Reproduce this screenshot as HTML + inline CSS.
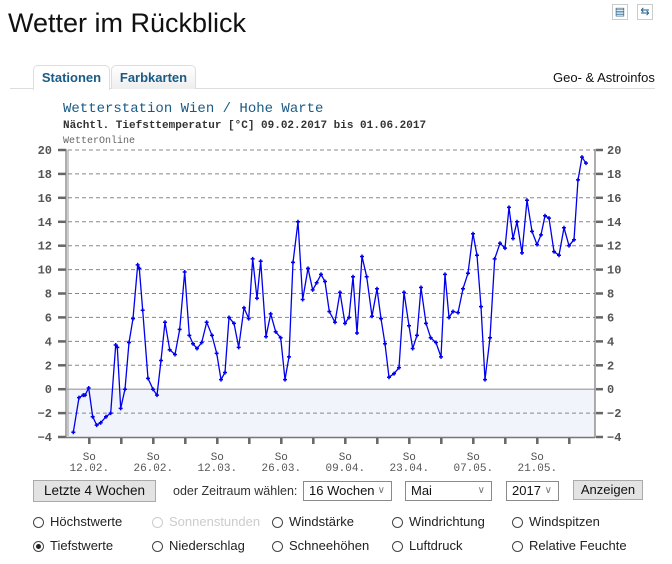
<!DOCTYPE html>
<html><head><meta charset="utf-8"><style>
body{margin:0;width:672px;height:564px;background:#fff;position:relative;overflow:hidden;font-family:"Liberation Sans",sans-serif;}
.a{position:absolute;white-space:nowrap}
.mono{font-family:"Liberation Mono","DejaVu Sans Mono",monospace}
.sel{position:absolute;height:20px;border:1px solid #8a8a8a;background:#fff;font-size:13px;line-height:18px;padding-left:5px;box-sizing:border-box;color:#111;white-space:nowrap;overflow:hidden}
.sel span{position:absolute;right:6px;top:0;color:#777;font-size:10px}
.btn{position:absolute;background:#e3e3e3;border:1px solid #aaa;box-sizing:border-box;font-size:13.5px;text-align:center;color:#111;white-space:nowrap}
.r{position:absolute;font-size:13px;color:#222;line-height:16px;white-space:nowrap}
.r i{display:inline-block;width:11px;height:11px;border:1px solid #444;border-radius:50%;vertical-align:-2px;margin-right:6px;position:relative;box-sizing:border-box}
</style></head><body>
<div class="a" style="left:8px;top:8px;font-size:27px;color:#111;">Wetter im Rückblick</div>
<div class="a" style="left:612px;top:4px;width:14px;height:14px;border:1px solid #ccc;color:#1a5b86;font-size:11px;text-align:center;line-height:14px">▤</div>
<div class="a" style="left:637px;top:4px;width:14px;height:14px;border:1px solid #ccc;color:#1a5b86;font-size:11px;text-align:center;line-height:14px">⇆</div>
<div class="a" style="left:10px;top:88px;width:645px;height:1px;background:#ddd"></div>
<div class="a" style="left:33px;top:65px;width:75px;height:24px;border:1px solid #ddd;border-bottom:none;border-radius:5px 5px 0 0;background:#fff;font-size:13px;font-weight:bold;color:#1a5b86;text-align:center;line-height:23px">Stationen</div>
<div class="a" style="left:111px;top:65px;width:83px;height:23px;border:1px solid #ddd;border-bottom:none;border-radius:5px 5px 0 0;background:linear-gradient(#fff,#eee);font-size:13px;font-weight:bold;color:#1a5b86;text-align:center;line-height:23px">Farbkarten</div>
<div class="a" style="left:553px;top:70px;font-size:13px;color:#111">Geo- &amp; Astroinfos</div>
<div class="a mono" style="left:63px;top:101px;font-size:14px;color:#1a5b86">Wetterstation Wien / Hohe Warte</div>
<div class="a mono" style="left:63px;top:120px;font-size:11px;font-weight:bold;color:#333">Nächtl. Tiefsttemperatur [°C] 09.02.2017 bis 01.06.2017</div>
<div class="a mono" style="left:63px;top:136px;font-size:10px;color:#666">WetterOnline</div>
<svg class="a" style="left:0;top:0" width="672" height="564" id="c"></svg>
<div class="btn" style="left:33px;top:480px;width:123px;height:22px;line-height:20px">Letzte 4 Wochen</div>
<div class="a" style="left:173px;top:484px;font-size:12.5px;color:#333">oder Zeitraum wählen:</div>
<div class="sel" style="left:303px;top:481px;width:89px">16 Wochen<span>∨</span></div>
<div class="sel" style="left:405px;top:481px;width:87px">Mai<span>∨</span></div>
<div class="sel" style="left:506px;top:481px;width:53px">2017<span>∨</span></div>
<div class="btn" style="left:573px;top:480px;width:70px;height:20px;line-height:18px;font-size:13px">Anzeigen</div>
<div class="r" style="left:33px;top:514px"><i></i>Höchstwerte</div>
<div class="r" style="left:152px;top:514px;color:#ccc"><i style="border-color:#ccc"></i>Sonnenstunden</div>
<div class="r" style="left:272px;top:514px"><i></i>Windstärke</div>
<div class="r" style="left:392px;top:514px"><i></i>Windrichtung</div>
<div class="r" style="left:512px;top:514px"><i></i>Windspitzen</div>
<div class="r" style="left:33px;top:538px"><i><b style="position:absolute;left:2px;top:2px;width:5px;height:5px;border-radius:50%;background:#222"></b></i>Tiefstwerte</div>
<div class="r" style="left:152px;top:538px"><i></i>Niederschlag</div>
<div class="r" style="left:272px;top:538px"><i></i>Schneehöhen</div>
<div class="r" style="left:392px;top:538px"><i></i>Luftdruck</div>
<div class="r" style="left:512px;top:538px"><i></i>Relative Feuchte</div>
<script>
var L=[[130,-3.6],[147,-0.7],[160,-0.5],[165,-0.5],[176,0.1],[188,-2.3],[200,-3.0],[212,-2.8],[228,-2.3],[242,-2.0],[257,3.7],[262,3.5],[272,-1.6],[285,0.0],[297,3.9],[309,5.9],[323,10.4],[328,10.1],[338,6.6],[354,0.9],[369,0],[381,-0.5],[393,2.4],[405,5.6],[419,3.3],[435,2.9],[449,5.0],[464,9.8],[478,4.5],[489,3.8],[501,3.4],[515,3.9],[530,5.6],[546,4.5],[560,3.0],[573,0.8],[585,1.4],[597,6.0],[612,5.5],[626,3.5],[642,6.8],[656,5.9],[668,10.9],[681,7.6],[692,10.7],[708,4.4],[722,6.3],[737,4.8],[752,4.3],[765,0.8],[777,2.7],[789,10.6],[804,14.0],[818,7.5],[834,10.1],[848,8.3],[860,8.9],[873,9.6],[885,9.0],[898,6.5]];
var R=[[15,5.6],[30,8.1],[45,5.5],[57,6.0],[69,9.4],[81,4.7],[96,11.1],[110,9.4],[126,6.1],[141,8.4],[153,5.9],[165,3.8],[177,1.0],[192,1.3],[207,1.8],[222,8.1],[237,5.3],[248,3.4],[261,4.5],[273,8.5],[288,5.5],[302,4.3],[318,3.9],[333,2.7],[345,9.6],[357,6.0],[369,6.5],[384,6.4],[399,8.4],[414,9.7],[429,13.0],[441,11.2],[453,6.9],[465,0.8],[480,4.3],[494,10.9],[510,12.2],[525,11.8],[537,15.2],[549,12.6],[561,14.0],[576,11.4],[591,15.8],[606,13.2],[621,12.1],[633,12.9],[645,14.5],[657,14.3],[672,11.5],[687,11.2],[702,13.5],[717,12.0],[732,12.5],[744,17.5],[756,19.4],[768,18.9]];
function Y(v){return 150+(20-v)*11.96}
var P=[];L.forEach(function(p){P.push([30+p[0]/3,Y(p[1])])});R.forEach(function(p){P.push([330+p[0]/3,Y(p[1])])});
var s='';
s+='<rect x="67" y="'+Y(0)+'" width="528" height="'+(Y(-4)-Y(0))+'" fill="#f1f4fa"/>';
for(var v=-4;v<=20;v+=2){var y=Y(v).toFixed(1);
 if(v>-4&&v!=0)s+='<line x1="68" x2="595" y1="'+y+'" y2="'+y+'" stroke="#888" stroke-dasharray="4,3"/>';
 s+='<line x1="58" x2="66" y1="'+y+'" y2="'+y+'" stroke="#666" stroke-width="2.5"/><line x1="596" x2="603" y1="'+y+'" y2="'+y+'" stroke="#666" stroke-width="2.5"/>';
 s+='<text x="52" y="'+(+y+4)+'" text-anchor="end" font-family="Liberation Mono,monospace" font-weight="bold" font-size="12" fill="#555">'+(v<0?'−'+(-v):v)+'</text>';
 s+='<text x="607" y="'+(+y+4)+'" font-family="Liberation Mono,monospace" font-weight="bold" font-size="12" fill="#555">'+(v<0?'−'+(-v):v)+'</text>';}
s+='<line x1="67" x2="595" y1="'+Y(0)+'" y2="'+Y(0)+'" stroke="#999" stroke-width="1.2"/>';
s+='<line x1="66" y1="149" x2="66" y2="438" stroke="#777" stroke-width="1.2"/><line x1="68" y1="150" x2="68" y2="436" stroke="#999"/>';
s+='<line x1="595" y1="149" x2="595" y2="438" stroke="#777" stroke-width="1.2"/><line x1="66" y1="437.5" x2="595" y2="437.5" stroke="#777" stroke-width="1.5"/>';
var lab=['12.02.','26.02.','12.03.','26.03.','09.04.','23.04.','07.05.','21.05.'];
for(var i=0;i<16;i++){var x=89.3+i*32;s+='<line x1="'+x+'" x2="'+x+'" y1="438" y2="444" stroke="#666" stroke-width="2.5"/>';
 if(i%2==0){s+='<text x="'+x+'" y="460" text-anchor="middle" font-family="Liberation Mono,monospace" font-size="11" fill="#555">So</text><text x="'+x+'" y="471" text-anchor="middle" font-family="Liberation Mono,monospace" font-size="11" fill="#555">'+lab[i/2]+'</text>';}}
s+='<polyline fill="none" stroke="#0000ee" stroke-width="1.3" points="'+P.map(function(p){return p[0].toFixed(1)+','+p[1].toFixed(1)}).join(' ')+'"/>';
P.forEach(function(p){s+='<path d="M'+(p[0]-2)+' '+p[1]+'h4M'+p[0]+' '+(p[1]-2)+'v4" stroke="#0000ee" stroke-width="1.5"/>'});
document.getElementById('c').innerHTML=s;
</script>
</body></html>
